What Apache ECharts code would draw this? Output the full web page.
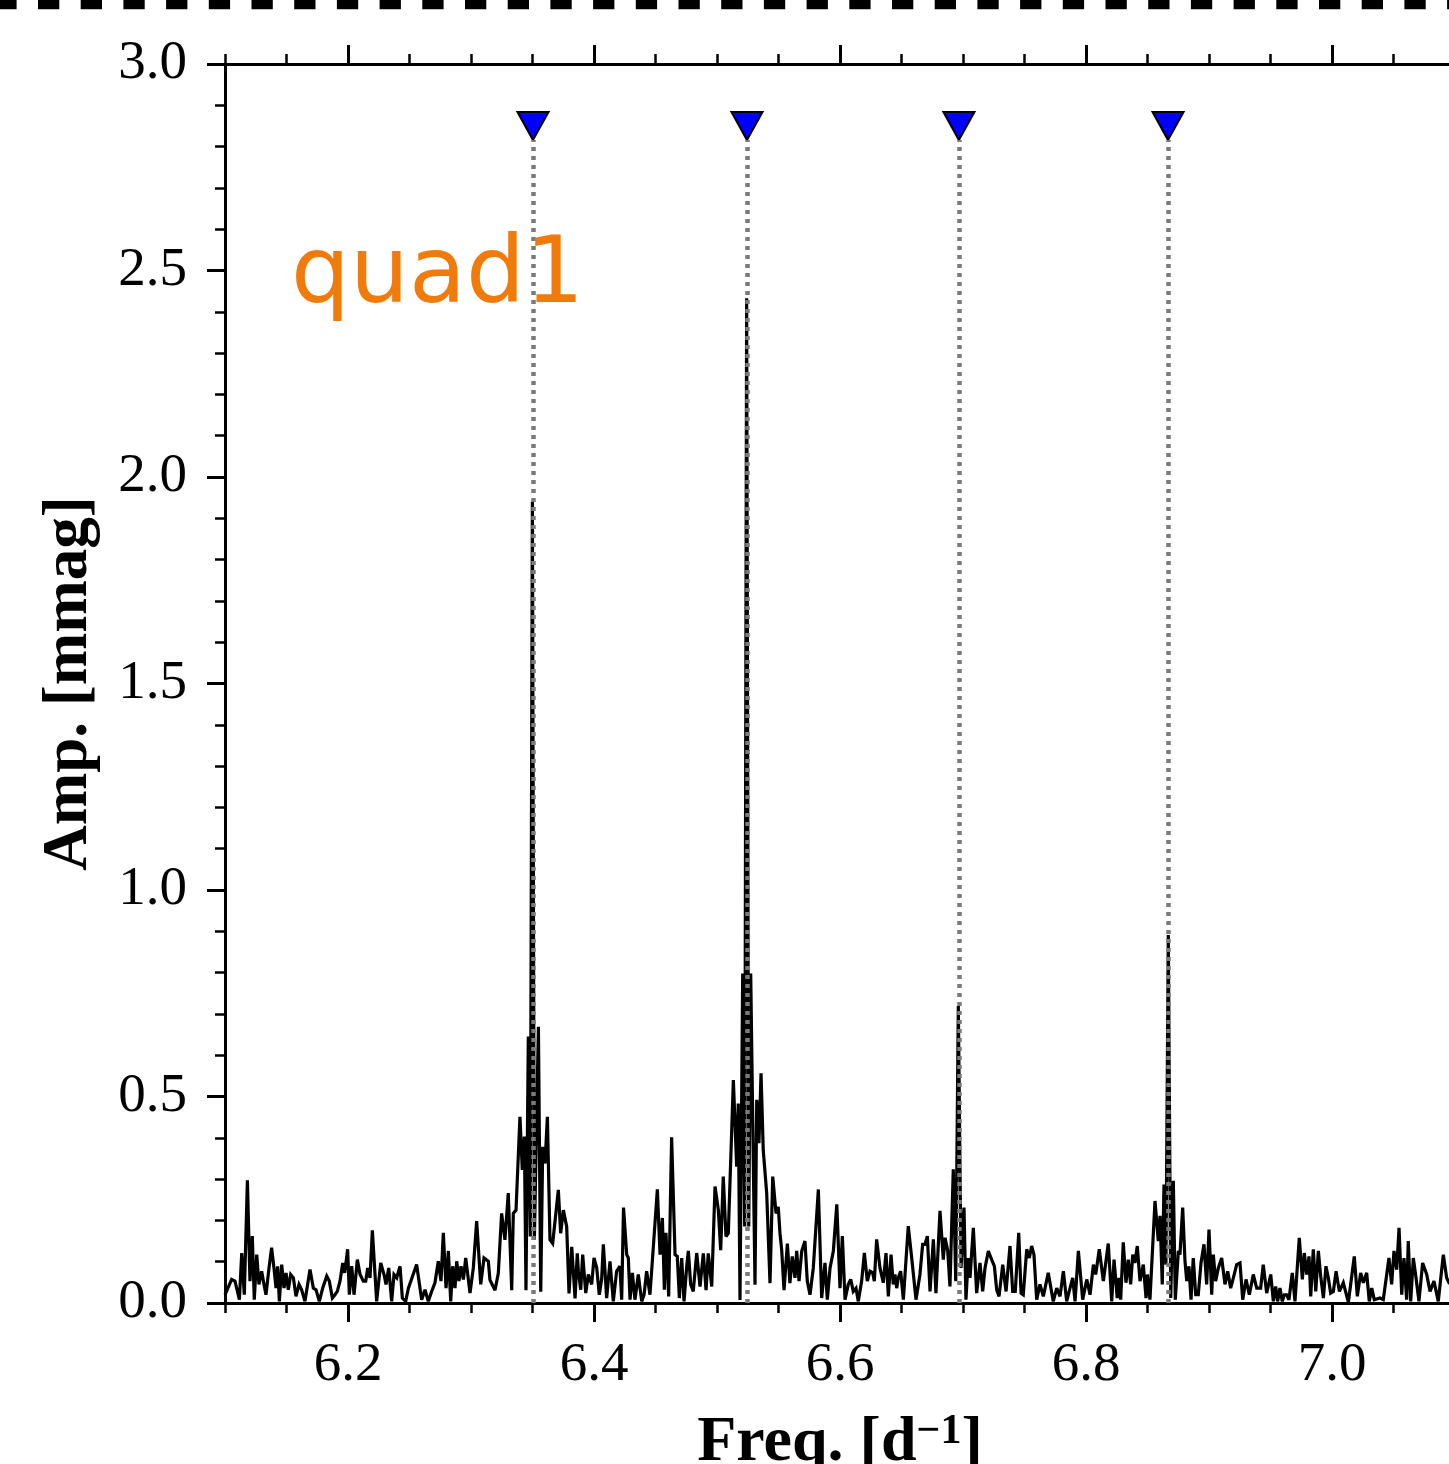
<!DOCTYPE html>
<html>
<head>
<meta charset="utf-8">
<script src="https://cdn.jsdelivr.net/npm/echarts@6/dist/echarts.min.js"></script>
<style>
html,body{margin:0;padding:0;background:#fff;}
#chart{width:1449px;height:1464px;}
</style>
</head>
<body>
<div id="chart"></div>
<script>
// ---- data ----
const freq = [
6.1000,6.1054,6.1081,6.1117,6.1136,6.1157,6.1182,6.1203,6.1222,6.1238,6.1258,6.1276,6.1298,6.1317,6.1333,6.1358,6.1379,6.1398,6.1415,6.1428,
6.1442,6.1461,6.1480,6.1496,6.1515,6.1534,6.1556,6.1577,6.1602,6.1623,6.1650,6.1691,6.1718,6.1740,6.1767,6.1794,6.1827,6.1848,6.1873,6.1894,
6.1913,6.1935,6.1957,6.1973,6.1997,6.2011,6.2030,6.2049,6.2076,6.2098,6.2125,6.2144,6.2160,6.2179,6.2198,6.2233,6.2266,6.2293,6.2309,6.2331,
6.2355,6.2374,6.2396,6.2423,6.2442,6.2469,6.2491,
6.2504,6.2558,6.2599,6.2626,6.2653,6.2680,6.2707,6.2734,6.2756,6.2775,6.2797,6.2816,6.2835,6.2851,6.2870,6.2884,6.2902,6.2919,6.2938,6.2957,
6.2992,6.3019,6.3046,6.3079,6.3106,6.3141,
6.3154,6.3195,6.3222,6.3249,6.3276,6.3303,6.3331,6.3344,6.3366,6.3398,6.3417,6.3434,6.3447,6.3466,6.3482,6.3499,6.3515,6.3548,6.3567,6.3583,
6.3602,6.3621,6.3642,6.3664,6.3710,6.3729,6.3751,6.3778,6.3797,6.3819,6.3846,6.3864,
6.3873,6.3892,6.3908,6.3933,6.3954,6.3981,6.4000,6.4022,6.4043,6.4062,6.4076,6.4103,6.4130,6.4157,6.4184,6.4211,6.4225,6.4240,
6.4266,6.4279,6.4293,6.4312,6.4333,6.4360,6.4388,6.4407,6.4428,6.4455,6.4482,6.4496,6.4515,6.4537,6.4556,6.4572,6.4585,6.4607,6.4631,6.4659,
6.4677,6.4694,6.4713,6.4732,6.4754,6.4767,6.4786,6.4807,6.4835,
6.4862,6.4889,6.4911,6.4929,6.4957,6.4984,6.5011,6.5030,6.5051,6.5073,6.5092,6.5133,6.5160,6.5173,6.5187,6.5209,6.5225,6.5241,6.5258,6.5274,
6.5309,6.5323,6.5341,6.5358,6.5376,6.5404,6.5431,6.5453,6.5480,6.5498,6.5512,6.5526,6.5545,6.5572,6.5593,
6.5612,6.5634,6.5648,6.5667,6.5689,6.5715,6.5734,6.5756,6.5783,6.5824,6.5851,6.5878,6.5897,
6.5919,6.5946,6.5974,6.6000,6.6019,6.6041,6.6067,6.6087,6.6108,6.6130,6.6149,6.6176,6.6198,6.6222,6.6244,6.6266,6.6279,6.6298,6.6325,6.6352,
6.6374,6.6393,6.6415,6.6433,6.6447,6.6461,6.6474,6.6493,6.6515,6.6555,6.6583,6.6618,6.6650,6.6672,6.6691,6.6710,6.6732,6.6759,6.6780,6.6813,
6.6840,6.6854,6.6876,6.6894,6.6921,6.6941,6.6962,6.6984,6.7008,6.7024,6.7043,6.7057,6.7084,6.7111,6.7138,6.7160,6.7179,6.7206,6.7233,6.7255,
6.7274,6.7293,6.7323,6.7350,6.7382,6.7404,6.7425,6.7453,6.7472,6.7490,6.7518,6.7539,6.7558,6.7577,6.7599,6.7626,6.7653,
6.7693,6.7734,6.7762,6.7789,6.7816,6.7843,6.7870,6.7892,6.7911,6.7938,6.7973,6.8006,6.8033,6.8060,6.8079,6.8108,6.8141,6.8181,6.8209,6.8228,
6.8254,6.8268,6.8282,6.8303,6.8325,6.8344,6.8363,6.8380,6.8398,6.8417,6.8439,6.8466,6.8488,6.8499,6.8520,6.8561,6.8588,6.8602,6.8620,6.8634,
6.8650,6.8669,6.8689,6.8710,6.8726,6.8751,6.8764,6.8786,6.8805,6.8819,6.8837,6.8854,6.8872,6.8892,6.8913,6.8935,6.8959,6.8981,6.9000,6.9022,
6.9035,6.9054,6.9076,6.9103,6.9130,6.9152,6.9176,6.9198,6.9225,6.9252,
6.9274,6.9301,6.9328,6.9360,6.9388,6.9420,6.9441,6.9469,6.9502,6.9523,6.9542,6.9558,6.9577,6.9596,6.9612,6.9631,6.9650,6.9677,6.9699,6.9734,
6.9759,6.9775,6.9794,6.9813,6.9827,6.9848,6.9868,6.9889,6.9908,6.9930,6.9951,6.9970,6.9989,7.0011,7.0033,7.0060,7.0092,7.0133,7.0181,7.0206,
7.0233,7.0255,7.0282,7.0303,7.0323,7.0344,7.0390,7.0417,7.0463,7.0485,7.0504,7.0526,7.0545,7.0567,7.0585,7.0607,7.0620,7.0640,7.0661,7.0683,
7.0707,7.0737,7.0770,7.0797,7.0829,7.0864,7.0905,7.0932,7.0951,7.1000
];
const amp = [
0.020,0.057,0.053,0.008,0.121,0.020,0.297,0.053,0.162,0.008,0.117,0.045,0.077,0.045,0.020,0.085,0.134,0.085,0.036,0.089,
0.004,0.093,0.036,0.073,0.032,0.069,0.061,0.016,0.045,0.032,0.004,0.081,0.036,0.032,0.004,0.036,0.065,0.053,0.012,0.020,
0.028,0.053,0.097,0.073,0.130,0.020,0.089,0.020,0.105,0.069,0.053,0.053,0.085,0.061,0.176,0.004,0.097,0.069,0.045,0.085,
0.004,0.069,0.061,0.089,0.012,0.004,0.036,
0.036,0.093,0.008,0.032,0.004,0.028,0.049,0.101,0.053,0.170,0.036,0.126,0.004,0.089,0.036,0.101,0.053,0.089,0.057,0.109,
0.024,0.085,0.198,0.045,0.109,0.101,
0.056,0.031,0.072,0.217,0.153,0.266,0.031,0.217,0.225,0.451,0.322,0.403,0.031,0.645,0.161,1.940,0.153,0.669,0.027,0.378,
0.338,0.451,0.153,0.144,0.274,0.169,0.225,0.185,0.023,0.136,0.011,0.120,
0.077,0.032,0.117,0.024,0.069,0.045,0.109,0.085,0.020,0.057,0.142,0.012,0.101,0.004,0.077,0.089,0.008,0.231,
0.117,0.109,0.008,0.073,0.008,0.069,0.004,0.020,0.077,0.020,0.134,0.134,0.275,0.117,0.206,0.032,0.170,0.016,0.401,0.117,
0.113,0.012,0.109,0.004,0.089,0.126,0.045,0.028,0.121,
0.040,0.120,0.031,0.120,0.040,0.282,0.225,0.128,0.306,0.161,0.169,0.540,0.330,0.483,0.007,0.798,0.185,2.433,0.185,0.798,
0.044,0.492,0.387,0.556,0.370,0.266,0.048,0.306,0.217,0.233,0.169,0.128,0.031,0.144,0.048,
0.113,0.061,0.126,0.053,0.126,0.150,0.053,0.020,0.085,0.275,0.012,0.097,0.008,
0.085,0.126,0.239,0.036,0.162,0.008,0.045,0.057,0.028,0.036,0.004,0.053,0.121,0.053,0.077,0.073,0.053,0.154,0.085,0.049,
0.121,0.016,0.117,0.045,0.069,0.036,0.061,0.077,0.008,0.186,0.109,0.008,0.069,0.142,0.142,0.162,0.028,0.154,0.024,0.223,
0.105,0.158,0.126,0.040,0.324,0.053,0.719,0.085,0.231,0.008,0.109,0.061,0.182,0.024,0.097,0.028,0.085,0.126,0.105,0.089,
0.032,0.016,0.093,0.028,0.138,0.028,0.028,0.170,0.024,0.020,0.130,0.109,0.138,0.117,0.008,0.045,0.016,
0.073,0.004,0.036,0.016,0.077,0.004,0.036,0.061,0.004,0.126,0.008,0.057,0.020,0.093,0.069,0.130,0.053,0.144,0.004,0.105,
0.012,0.061,0.008,0.147,0.049,0.105,0.045,0.117,0.097,0.138,0.053,0.093,0.012,0.069,0.008,0.247,0.150,0.211,0.045,0.287,
0.093,0.891,0.012,0.296,0.008,0.126,0.117,0.231,0.101,0.053,0.089,0.008,0.109,0.020,0.020,0.097,0.142,0.045,0.178,0.020,
0.117,0.053,0.085,0.109,0.045,0.077,0.036,0.061,0.093,0.097,
0.008,0.057,0.020,0.069,0.036,0.036,0.093,0.024,0.069,0.004,0.040,0.004,0.036,0.004,0.020,0.020,0.008,0.073,0.004,0.158,
0.057,0.121,0.069,0.113,0.016,0.130,0.028,0.126,0.065,0.012,0.089,0.061,0.024,0.028,0.077,0.028,0.049,0.002,0.113,0.016,
0.073,0.049,0.073,0.004,0.036,0.008,0.012,0.008,0.109,0.045,0.126,0.081,0.182,0.020,0.109,0.008,0.150,0.004,0.109,0.061,
0.004,0.097,0.069,0.028,0.053,0.004,0.117,0.061,0.049,0.040
];
const markerFreq = [6.3504, 6.5244, 6.6967, 6.8667];
const markerAmp = [2.85, 2.85, 2.85, 2.85];
const markerLineTop = 2.816;
const xTicks = [6.2, 6.4, 6.6, 6.8, 7.0];
const yTicks = [0.0, 0.5, 1.0, 1.5, 2.0, 2.5, 3.0];
const xRange = [6.1, 7.1];
const yRange = [0, 3.0];
const xMinorStep = 0.05;
const yMinorStep = 0.1;
const panelLabel = 'quad1';

// ---- chart ----
const spectrum = freq.map((f, i) => [f, amp[i]]);
const markers = markerFreq.map((f, i) => [f, markerAmp[i]]);
const markLines = markerFreq.map(f => [{coord: [f, 0]}, {coord: [f, markerLineTop]}]);

const serif = '"Liberation Serif", "DejaVu Serif", serif';
const lbl = {fontFamily: serif, fontSize: 55, color: '#000'};
const fmt = v => Number(v).toFixed(1);

function majorX(pos, withLabel) {
  return {
    type: 'value', position: pos, min: xRange[0], max: xRange[1], gridIndex: 0,
    axisLine: {show: true, onZero: false, lineStyle: {color: '#000', width: 3}},
    axisTick: {show: true, length: 19, lineStyle: {color: '#000', width: 3}, customValues: xTicks},
    axisLabel: withLabel ? Object.assign({show: true, margin: 35, formatter: fmt, customValues: xTicks}, lbl) : {show: false},
    splitLine: {show: false}
  };
}
function minorX(pos) {
  return {
    type: 'value', position: pos, min: xRange[0], max: xRange[1], interval: xMinorStep, gridIndex: 0,
    axisLine: {show: false, onZero: false},
    axisTick: {show: true, length: 10, lineStyle: {color: '#000', width: 2.5}},
    axisLabel: {show: false}, splitLine: {show: false}
  };
}

const xMain = majorX('bottom', true);
xMain.name = 'Freq. [d{sup|\u22121}]';
xMain.nameLocation = 'middle';
xMain.nameGap = 108;
xMain.nameTextStyle = {fontFamily: serif, fontWeight: 'bold', fontSize: 64, color: '#000', lineHeight: 64,
  rich: {sup: {fontFamily: serif, fontWeight: 'bold', fontSize: 42, lineHeight: 42, verticalAlign: 'top', padding: [0, 0, 6, 0], color: '#000'}}};

const option = {
  animation: false,
  backgroundColor: '#fff',
  grid: {left: 225, top: 64, width: 1230, height: 1239, containLabel: false, outerBoundsMode: 'none'},
  xAxis: [xMain, minorX('bottom'), majorX('top', false), minorX('top')],
  yAxis: [
    {
      type: 'value', position: 'left', min: yRange[0], max: yRange[1],
      axisLine: {show: true, onZero: false, lineStyle: {color: '#000', width: 3}},
      axisTick: {show: true, length: 18, lineStyle: {color: '#000', width: 3}, customValues: yTicks},
      axisLabel: Object.assign({show: true, margin: 38, formatter: fmt, customValues: yTicks}, lbl),
      splitLine: {show: false},
      name: 'Amp. [mmag]', nameLocation: 'middle', nameRotate: 90, nameGap: 124,
      nameTextStyle: {fontFamily: serif, fontWeight: 'bold', fontSize: 63, color: '#000'}
    },
    {
      type: 'value', position: 'left', min: yRange[0], max: yRange[1], interval: yMinorStep,
      axisLine: {show: false, onZero: false},
      axisTick: {show: true, length: 10, lineStyle: {color: '#000', width: 2.5}},
      axisLabel: {show: false}, splitLine: {show: false}
    }
  ],
  series: [
    {
      type: 'line', data: spectrum, xAxisIndex: 0, yAxisIndex: 0,
      symbol: 'none', showSymbol: false, smooth: false, sampling: null,
      lineStyle: {color: '#000', width: 3.2, join: 'miter', miterLimit: 3}, z: 2, silent: true
    },
    {
      type: 'scatter', data: markers, xAxisIndex: 0, yAxisIndex: 0,
      symbol: 'triangle', symbolRotate: 180, symbolSize: [31, 28],
      itemStyle: {color: '#0000ff', borderColor: '#000', borderWidth: 2, opacity: 1},
      z: 4, silent: true,
      markLine: {
        silent: true, symbol: ['none', 'none'], label: {show: false},
        lineStyle: {color: '#7a7a7a', width: 4.5, type: [4, 5], opacity: 1},
        emphasis: {disabled: true},
        data: markLines
      }
    }
  ],
  graphic: [
    {
      type: 'line', silent: true, z: 10,
      shape: {x1: -4.7, y1: 4.5, x2: 1470, y2: 4.5},
      style: {stroke: '#000', lineWidth: 9.5, lineDash: [21.3, 21.4], lineCap: 'butt'}
    },
    {
      type: 'text', left: 291, top: 231, silent: true, z: 10,
      style: {text: panelLabel, font: '93px "DejaVu Sans"', fill: '#f07a0a'}
    }
  ]
};

const chart = echarts.init(document.getElementById('chart'), null, {renderer: 'canvas'});
chart.setOption(option);
</script>
</body>
</html>
